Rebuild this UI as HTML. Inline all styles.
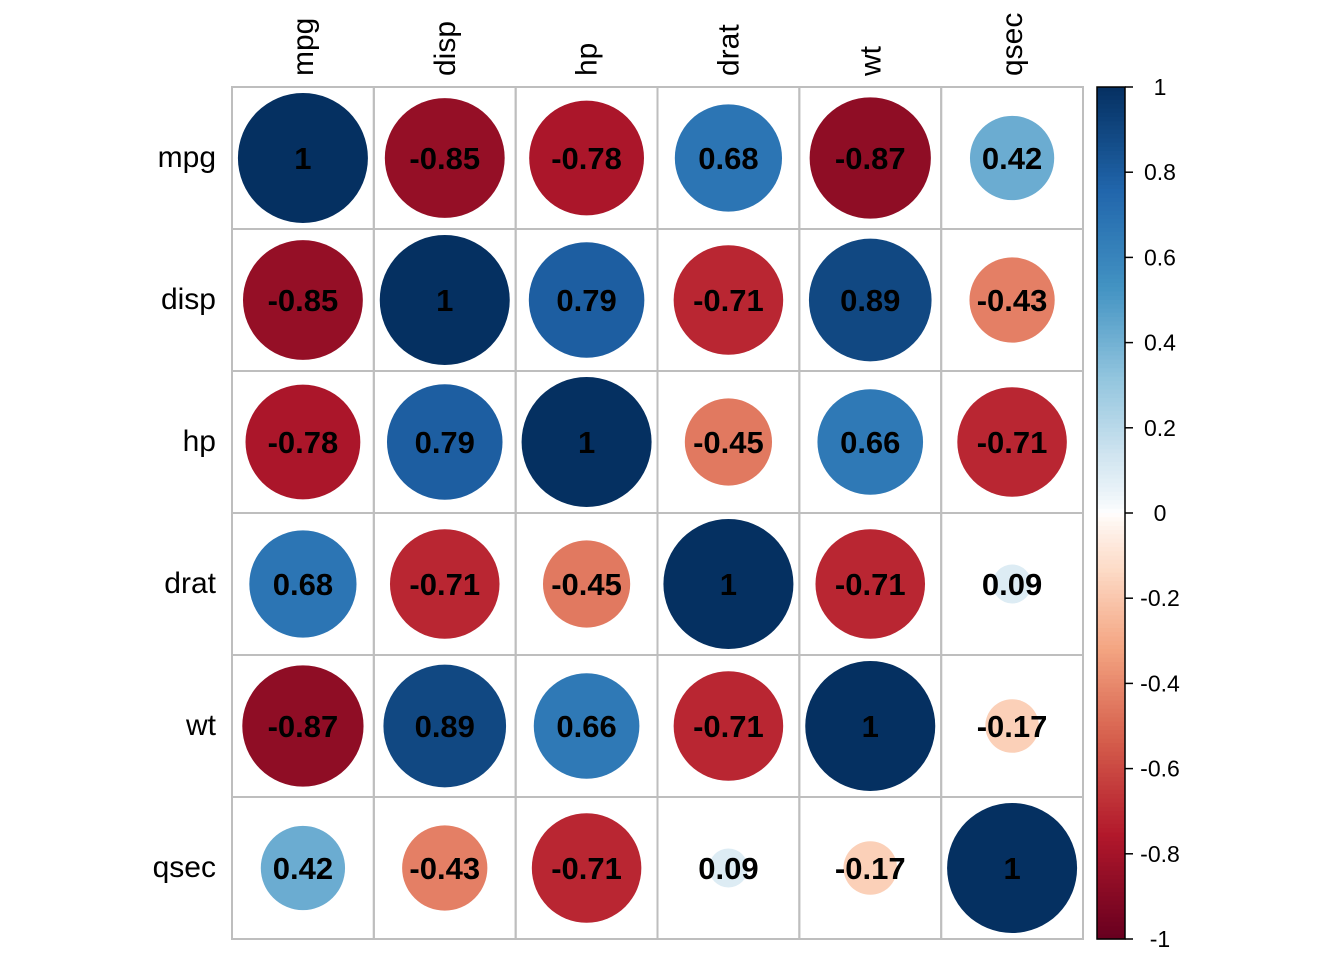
<!DOCTYPE html>
<html><head><meta charset="utf-8"><style>body{margin:0;background:#fff}svg{display:block}</style></head>
<body>
<svg id="chart" width="1344" height="960" xmlns="http://www.w3.org/2000/svg" font-family="Liberation Sans, Arial, sans-serif"></svg>
<script>
const vars = ["mpg","disp","hp","drat","wt","qsec"];
const corr = [
 [1,-0.85,-0.78,0.68,-0.87,0.42],
 [-0.85,1,0.79,-0.71,0.89,-0.43],
 [-0.78,0.79,1,-0.45,0.66,-0.71],
 [0.68,-0.71,-0.45,1,-0.71,0.09],
 [-0.87,0.89,0.66,-0.71,1,-0.17],
 [0.42,-0.43,-0.71,0.09,-0.17,1]
];
const colorTicks = ["1","0.8","0.6","0.4","0.2","0","-0.2","-0.4","-0.6","-0.8","-1"];
const tickValues = [1,0.8,0.6,0.4,0.2,0,-0.2,-0.4,-0.6,-0.8,-1];
const stops = ["#67001F","#B2182B","#D6604D","#F4A582","#FDDBC7","#FFFFFF","#D1E5F0","#92C5DE","#4393C3","#2166AC","#053061"];

const NS="http://www.w3.org/2000/svg", svg=document.getElementById('chart');
function mk(t,a,p){const e=document.createElementNS(NS,t);for(const k in a)e.setAttribute(k,a[k]);(p||svg).appendChild(e);return e;}
function hex(h){return [1,3,5].map(i=>parseInt(h.substr(i,2),16));}
function color(v){const w=Math.sign(v)*Math.pow(Math.abs(v),0.8);const t=(w+1)/2*10;const i=Math.max(0,Math.min(9,Math.floor(t)));const f=t-i;const a=hex(stops[i]),b=hex(stops[i+1]);return 'rgb('+a.map((c,k)=>Math.round(c+(b[k]-c)*f)).join(',')+')';}
const x0=232,y0=87,W=851,H=852,n=vars.length,cw=W/n,ch=H/n;
const xs=i=>x0+cw*(i+0.5), ys=i=>y0+ch*(i+0.5);
const R=65;
for(let i=0;i<n;i++)for(let j=0;j<n;j++){
 const c=mk('rect',{x:x0+cw*j,y:y0+ch*i,width:cw,height:ch,fill:'none',stroke:'#BEBEBE','stroke-width':2});
 
 
}
for(let i=0;i<n;i++)for(let j=0;j<n;j++){
 const v=corr[i][j];
 const c=mk('circle',{cx:xs(j),cy:ys(i),r:R*Math.sqrt(Math.abs(v)),fill:color(v)});
 
 
 const t=mk('text',{x:xs(j),y:ys(i)+11,'text-anchor':'middle','font-size':31,'font-weight':'bold',fill:'#000'});
 t.textContent=String(v);
 
 
}
vars.forEach((v,i)=>{
 const t=mk('text',{x:216,y:ys(i)+9,'text-anchor':'end','font-size':30,fill:'#000'});
 t.textContent=v;
 
 
 const c=mk('text',{x:0,y:0,'text-anchor':'start','font-size':30,fill:'#000',transform:'translate('+(xs(i)+10)+',76) rotate(-90)'});
 c.textContent=v;
 
 
});
const bx=1097,bw=28,by0=87,by1=939;
const cb=mk('g',{});


const N=200;
for(let k=0;k<N;k++){
 const v=1-2*(k+0.5)/N;
 mk('rect',{x:bx,y:by0+(by1-by0)*k/N,width:bw,height:(by1-by0)/N+0.6,fill:color(v)},cb);
}
mk('rect',{x:bx,y:by0,width:bw,height:by1-by0,fill:'none',stroke:'#000','stroke-width':1.5},cb);
const yb=v=>by0+(1-v)/2*(by1-by0);
tickValues.forEach((v,i)=>{
 mk('line',{x1:bx+bw,x2:bx+bw+8,y1:yb(v),y2:yb(v),stroke:'#000','stroke-width':1.5},cb);
 const t=mk('text',{x:1160,y:yb(v)+8,'text-anchor':'middle','font-size':23,fill:'#000'},cb);
 t.textContent=colorTicks[i];
 
 
});
</script>
</body></html>
